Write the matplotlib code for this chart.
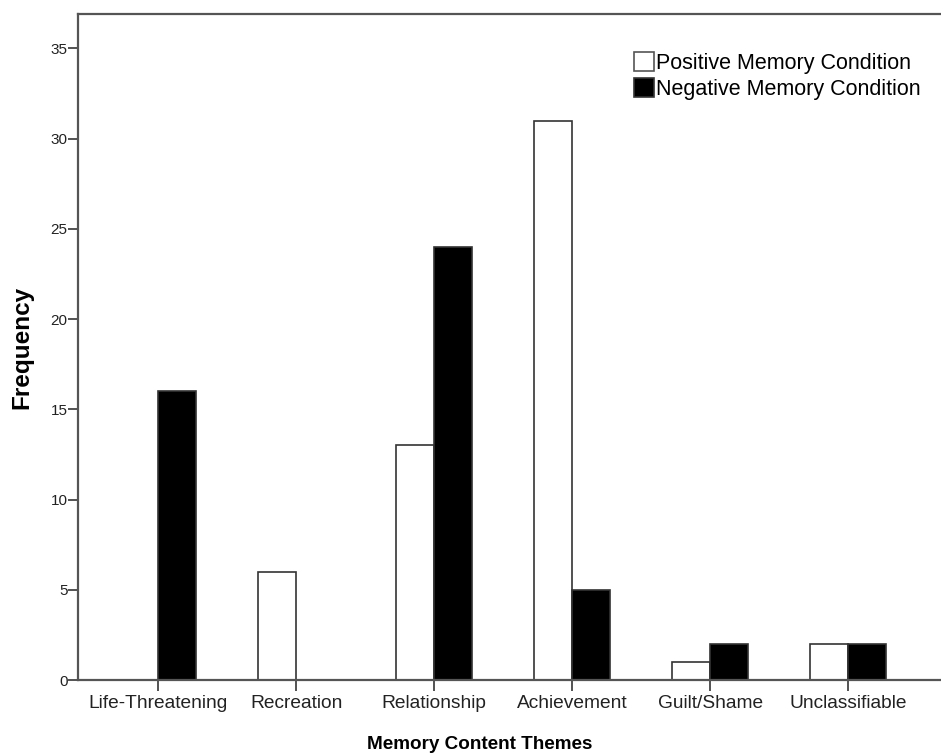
import numpy as np
import matplotlib
matplotlib.use("Agg")
import matplotlib.pyplot as plt

plt.rcParams['font.family'] = ['Liberation Sans', 'DejaVu Sans']

themes = ["Life-Threatening", "Recreation", "Relationship", "Achievement", "Guilt/Shame", "Unclassifiable"]
positive = [0, 6, 13, 31, 1, 2]
negative = [16, 0, 24, 5, 2, 2]

fig = plt.figure(figsize=(9.41, 7.54), dpi=100)
ax = fig.add_axes([0.0829, 0.0981, 0.93, 0.8833])

x = np.arange(len(themes))
w = 0.275
edge = '#333333'
ax.bar(x - w / 2, positive, w, color='white', edgecolor=edge, linewidth=1.2,
       label='Positive Memory Condition')
ax.bar(x + w / 2, negative, w, color='black', edgecolor=edge, linewidth=1.2,
       label='Negative Memory Condition')

ax.set_xlim(-0.58, 5.76)
ax.set_ylim(0, 36.9)
ax.set_yticks(range(0, 36, 5))
ax.set_xticks(x)
ax.set_xticklabels(themes, fontsize=13.8, color='#222222')
ax.tick_params(axis='y', labelsize=11, labelcolor='#222222', direction='out',
               length=7.5, width=1.3, color='#444444', pad=0)
ax.tick_params(axis='x', direction='out', length=8, width=1.3, color='#444444', pad=3)

for s in ['left', 'top', 'bottom']:
    ax.spines[s].set_color('#555555')
    ax.spines[s].set_linewidth(1.6)
ax.spines['right'].set_visible(False)

ax.set_xlabel('Memory Content Themes', fontsize=13.6, fontweight='bold')
ax.xaxis.set_label_coords(0.459, -0.084)
ax.set_ylabel('Frequency', fontsize=17.5, fontweight='bold')
ax.yaxis.set_label_coords(-0.051, 0.5)

leg = ax.legend(loc='upper left', bbox_to_anchor=(0.635, 0.943), frameon=False,
                fontsize=15.5, handlelength=0.95, handleheight=0.95, handletextpad=0.1,
                labelspacing=0.2, borderaxespad=0, borderpad=0)
leg.legend_handles[0].set_edgecolor('#555555')

fig.savefig('out.png', dpi=100)
